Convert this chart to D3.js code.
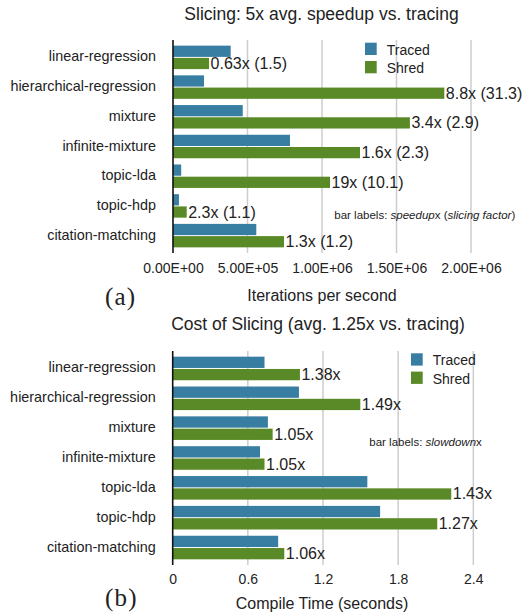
<!DOCTYPE html>
<html>
<head>
<meta charset="utf-8">
<script src="https://cdn.jsdelivr.net/npm/d3@7"></script>
<style>
  html, body { margin: 0; padding: 0; background: #fff; }
  svg { display: block; font-family: "Liberation Sans", Arial, sans-serif; }
</style>
</head>
<body>
<svg id="chart" width="530" height="616"></svg>
<script>
// Benchmarks shown in both panels
const categories = ["linear-regression", "hierarchical-regression", "mixture",
  "infinite-mixture", "topic-lda", "topic-hdp", "citation-matching"];
const seriesNames = ["Traced", "Shred"];

// Panel (a): iterations per second
const tracedIters = [387000, 208000, 468000, 785000, 55000, 40000, 559000];
const shredIters  = [242000, 1821000, 1590000, 1255000, 1054000, 92000, 745000];
const speedupLabels = ["0.63x (1.5)", "8.8x (31.3)", "3.4x (2.9)", "1.6x (2.3)",
  "19x (10.1)", "2.3x (1.1)", "1.3x (1.2)"];
const itersTicks = [0, 500000, 1000000, 1500000, 2000000];

// Panel (b): compile time in seconds
const tracedCompile = [0.733, 1.008, 0.760, 0.697, 1.554, 1.656, 0.842];
const shredCompile  = [1.016, 1.498, 0.798, 0.733, 2.224, 2.112, 0.891];
const slowdownLabels = ["1.38x", "1.49x", "1.05x", "1.05x", "1.43x", "1.27x", "1.06x"];
const compileTicks = [0, 0.6, 1.2, 1.8, 2.4];

const colors = { Traced: "#377ea2", Shred: "#5a8a28" };
const textColor = "#222";

const svg = d3.select("#chart");

// 0.00E+00 style scientific notation
function sciFormat(v) {
  if (v === 0) return "0.00E+00";
  const e = Math.floor(Math.log10(Math.abs(v)));
  const m = v / Math.pow(10, e);
  return m.toFixed(2) + "E" + (e < 0 ? "-" : "+") + String(Math.abs(e)).padStart(2, "0");
}

function drawPanel(cfg) {
  const g = svg.append("g");
  const x = d3.scaleLinear().domain(cfg.domain).range([cfg.left, cfg.right]);
  const y = d3.scaleBand().domain(categories).range([cfg.top, cfg.bottom])
    .paddingInner(0.21).paddingOuter(0.19);
  const ySub = d3.scaleBand().domain(seriesNames).range([0, y.bandwidth()]).paddingInner(0.08);

  const rows = categories.map((c, i) => ({
    cat: c, Traced: cfg.traced[i], Shred: cfg.shred[i], label: cfg.labels[i]
  }));

  // title
  g.append("text")
    .attr("x", cfg.titleX).attr("y", cfg.titleY)
    .attr("text-anchor", "middle")
    .attr("font-size", 17.5).attr("fill", textColor)
    .text(cfg.title);

  // vertical gridlines
  g.append("g").selectAll("line")
    .data(cfg.ticks.filter(t => t !== 0))
    .join("line")
    .attr("x1", d => x(d)).attr("x2", d => x(d))
    .attr("y1", cfg.top).attr("y2", cfg.bottom)
    .attr("stroke", "#cdcdcd").attr("stroke-width", 1.5);

  // bars
  const groups = g.append("g").selectAll("g")
    .data(rows).join("g")
    .attr("transform", d => `translate(0,${y(d.cat)})`);

  groups.selectAll("rect")
    .data(d => seriesNames.map(s => ({ s, v: d[s] })))
    .join("rect")
    .attr("x", x(0))
    .attr("y", d => ySub(d.s))
    .attr("width", d => x(d.v) - x(0))
    .attr("height", ySub.bandwidth())
    .attr("fill", d => colors[d.s]);

  // value labels at the end of each Shred bar
  groups.append("text")
    .attr("x", d => x(d.Shred) + 1.5)
    .attr("y", ySub("Shred") + ySub.bandwidth() / 2 + 5.5)
    .attr("font-size", 16).attr("fill", textColor)
    .text(d => d.label);

  // category axis
  const yAxis = g.append("g")
    .attr("transform", `translate(${x(0)},0)`)
    .call(d3.axisLeft(y).tickSize(0).tickPadding(17));
  yAxis.select(".domain").remove();
  yAxis.selectAll("text")
    .attr("font-size", 14.4).attr("fill", textColor)
    .attr("font-family", "Liberation Sans, Arial, sans-serif")
    .attr("dy", 4);

  g.append("line")
    .attr("x1", x(0)).attr("x2", x(0))
    .attr("y1", cfg.top).attr("y2", cfg.bottom)
    .attr("stroke", "#111").attr("stroke-width", 1.6);

  // value axis
  const xAxis = g.append("g")
    .attr("transform", `translate(0,${cfg.bottom})`)
    .call(d3.axisBottom(x).tickValues(cfg.ticks).tickFormat(cfg.tickFormat).tickSize(0).tickPadding(0));
  xAxis.select(".domain").remove();
  xAxis.selectAll("text")
    .attr("font-size", 14).attr("fill", textColor)
    .attr("font-family", "Liberation Sans, Arial, sans-serif")
    .attr("dy", null)
    .attr("y", cfg.tickBaseline - cfg.bottom);

  g.append("text")
    .attr("x", cfg.axisTitleX).attr("y", cfg.axisTitleY)
    .attr("text-anchor", "middle")
    .attr("font-size", 16).attr("fill", textColor)
    .text(cfg.axisTitle);

  // legend
  const leg = g.append("g").selectAll("g")
    .data(seriesNames).join("g")
    .attr("transform", (d, i) => `translate(${cfg.legendX},${cfg.legendY + i * 18.3})`);
  leg.append("rect").attr("width", 11.7).attr("height", 12.3).attr("fill", d => colors[d]);
  leg.append("text").attr("x", 21.7).attr("y", 12).attr("font-size", 14)
    .attr("fill", textColor).text(d => d);

  // note on label meaning
  const note = g.append("text")
    .attr("x", cfg.noteX).attr("y", cfg.noteY)
    .attr("font-size", 11.5).attr("fill", textColor);
  cfg.note.forEach(p => note.append("tspan").attr("font-style", p.italic ? "italic" : "normal").text(p.t));

  // panel tag
  g.append("text")
    .attr("x", 105).attr("y", cfg.tagY)
    .attr("font-family", "Liberation Serif, 'DejaVu Serif', serif")
    .attr("font-size", 25).attr("letter-spacing", 1.2).attr("fill", textColor)
    .text(cfg.tag);
}

drawPanel({
  title: "Slicing: 5x avg. speedup vs. tracing", titleX: 321.5, titleY: 19.5,
  domain: [0, 2000000], left: 173, right: 471, top: 40, bottom: 253,
  traced: tracedIters, shred: shredIters, labels: speedupLabels,
  ticks: itersTicks, tickFormat: sciFormat, tickBaseline: 272.7,
  axisTitle: "Iterations per second", axisTitleX: 322, axisTitleY: 300.5,
  legendX: 365, legendY: 42.7,
  noteX: 334.3, noteY: 219.3,
  note: [{ t: "bar labels: " }, { t: "speedup", italic: true }, { t: "x (" },
         { t: "slicing factor", italic: true }, { t: ")" }],
  tag: "(a)", tagY: 305
});

drawPanel({
  title: "Cost of Slicing (avg. 1.25x vs. tracing)", titleX: 318, titleY: 329.5,
  domain: [0, 2.4], left: 172.7, right: 473.3, top: 351, bottom: 565,
  traced: tracedCompile, shred: shredCompile, labels: slowdownLabels,
  ticks: compileTicks, tickFormat: d => String(d), tickBaseline: 583.5,
  axisTitle: "Compile Time (seconds)", axisTitleX: 322, axisTitleY: 608.5,
  legendX: 411, legendY: 353.3,
  noteX: 369.3, noteY: 445.7,
  note: [{ t: "bar labels: " }, { t: "slowdown", italic: true }, { t: "x" }],
  tag: "(b)", tagY: 606
});
</script>
</body>
</html>
